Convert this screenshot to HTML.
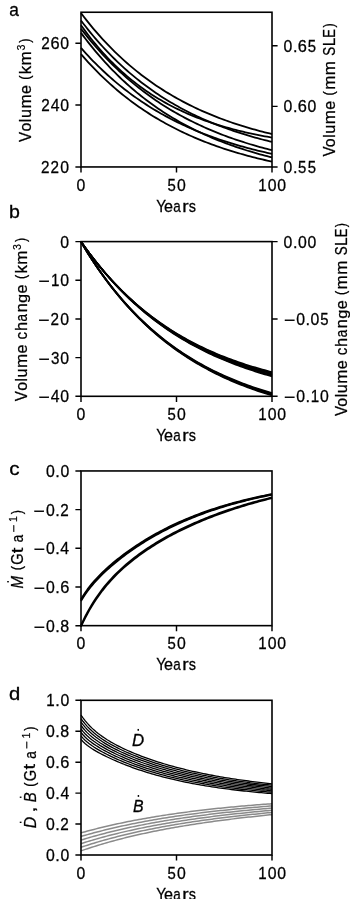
<!DOCTYPE html>
<html><head><meta charset="utf-8"><style>
html,body{margin:0;padding:0;background:#fff;}
svg{display:block;will-change:transform;}
text{font-family:"Liberation Sans",sans-serif;font-size:15px;fill:#000;stroke:#000;stroke-width:0.25px;}
</style></head><body>
<svg width="350" height="899" viewBox="0 0 350 899">
<rect width="350" height="899" fill="#fff"/>
<g stroke-linejoin="round" stroke-linecap="butt">
<polyline points="81,13.11 83.42,16.28 85.84,19.38 88.25,22.42 90.67,25.39 93.09,28.3 95.51,31.14 97.92,33.92 100.34,36.64 102.76,39.31 105.18,41.91 107.59,44.46 110.01,46.96 112.43,49.4 114.85,51.79 117.27,54.13 119.68,56.42 122.1,58.66 124.52,60.85 126.94,62.99 129.35,65.09 131.77,67.14 134.19,69.15 136.61,71.11 139.03,73.04 141.44,74.92 143.86,76.76 146.28,78.56 148.7,80.32 151.11,82.05 153.53,83.73 155.95,85.39 158.37,87 160.78,88.58 163.2,90.13 165.62,91.64 168.04,93.13 170.46,94.57 172.87,95.99 175.29,97.38 177.71,98.74 180.13,100.07 182.54,101.37 184.96,102.64 187.38,103.88 189.8,105.1 192.22,106.29 194.63,107.46 197.05,108.6 199.47,109.72 201.89,110.81 204.3,111.88 206.72,112.93 209.14,113.95 211.56,114.95 213.97,115.93 216.39,116.89 218.81,117.83 221.23,118.75 223.65,119.65 226.06,120.52 228.48,121.39 230.9,122.23 233.32,123.05 235.73,123.86 238.15,124.65 240.57,125.42 242.99,126.17 245.41,126.91 247.82,127.63 250.24,128.34 252.66,129.03 255.08,129.71 257.49,130.37 259.91,131.02 262.33,131.66 264.75,132.28 267.16,132.88 269.58,133.48 272,134.06" fill="none" stroke="#000" stroke-width="1.8"/>
<polyline points="81,20.55 83.42,23.72 85.84,26.82 88.25,29.86 90.67,32.83 93.09,35.73 95.51,38.58 97.92,41.36 100.34,44.08 102.76,46.75 105.18,49.36 107.59,51.91 110.01,54.41 112.43,56.85 114.85,59.25 117.27,61.59 119.68,63.88 122.1,66.12 124.52,68.32 126.94,70.47 129.35,72.57 131.77,74.62 134.19,76.64 136.61,78.61 139.03,80.54 141.44,82.42 143.86,84.27 146.28,86.08 148.7,87.85 151.11,89.58 153.53,91.27 155.95,92.93 158.37,94.55 160.78,96.14 163.2,97.69 165.62,99.21 168.04,100.7 170.46,102.15 172.87,103.58 175.29,104.97 177.71,106.34 180.13,107.68 182.54,108.98 184.96,110.26 187.38,111.51 189.8,112.74 192.22,113.94 194.63,115.11 197.05,116.26 199.47,117.38 201.89,118.48 204.3,119.56 206.72,120.61 209.14,121.64 211.56,122.65 213.97,123.64 216.39,124.6 218.81,125.55 221.23,126.48 223.65,127.38 226.06,128.27 228.48,129.13 230.9,129.98 233.32,130.81 235.73,131.63 238.15,132.42 240.57,133.2 242.99,133.96 245.41,134.71 247.82,135.44 250.24,136.15 252.66,136.85 255.08,137.53 257.49,138.2 259.91,138.86 262.33,139.5 264.75,140.13 267.16,140.74 269.58,141.34 272,141.93" fill="none" stroke="#000" stroke-width="1.8"/>
<polyline points="81,25.23 83.42,28.6 85.84,31.88 88.25,35.07 90.67,38.18 93.09,41.21 95.51,44.16 97.92,47.02 100.34,49.82 102.76,52.54 105.18,55.19 107.59,57.77 110.01,60.28 112.43,62.72 114.85,65.1 117.27,67.42 119.68,69.68 122.1,71.87 124.52,74.01 126.94,76.09 129.35,78.12 131.77,80.1 134.19,82.02 136.61,83.89 139.03,85.71 141.44,87.49 143.86,89.22 146.28,90.9 148.7,92.54 151.11,94.13 153.53,95.68 155.95,97.2 158.37,98.67 160.78,100.1 163.2,101.5 165.62,102.86 168.04,104.18 170.46,105.47 172.87,106.72 175.29,107.94 177.71,109.13 180.13,110.29 182.54,111.42 184.96,112.51 187.38,113.58 189.8,114.62 192.22,115.64 194.63,116.62 197.05,117.58 199.47,118.52 201.89,119.43 204.3,120.32 206.72,121.18 209.14,122.02 211.56,122.84 213.97,123.63 216.39,124.41 218.81,125.16 221.23,125.9 223.65,126.62 226.06,127.31 228.48,127.99 230.9,128.65 233.32,129.3 235.73,129.92 238.15,130.53 240.57,131.13 242.99,131.71 245.41,132.27 247.82,132.82 250.24,133.35 252.66,133.87 255.08,134.38 257.49,134.87 259.91,135.35 262.33,135.82 264.75,136.27 267.16,136.71 269.58,137.14 272,137.56" fill="none" stroke="#000" stroke-width="1.8"/>
<polyline points="81,28.76 83.42,31.87 85.84,34.91 88.25,37.89 90.67,40.81 93.09,43.67 95.51,46.47 97.92,49.21 100.34,51.89 102.76,54.52 105.18,57.1 107.59,59.62 110.01,62.09 112.43,64.51 114.85,66.88 117.27,69.2 119.68,71.47 122.1,73.69 124.52,75.87 126.94,78 129.35,80.09 131.77,82.14 134.19,84.14 136.61,86.1 139.03,88.03 141.44,89.91 143.86,91.75 146.28,93.56 148.7,95.32 151.11,97.06 153.53,98.75 155.95,100.41 158.37,102.04 160.78,103.63 163.2,105.19 165.62,106.72 168.04,108.21 170.46,109.68 172.87,111.11 175.29,112.52 177.71,113.89 180.13,115.24 182.54,116.56 184.96,117.85 187.38,119.12 189.8,120.36 192.22,121.57 194.63,122.76 197.05,123.92 199.47,125.06 201.89,126.18 204.3,127.27 206.72,128.34 209.14,129.39 211.56,130.42 213.97,131.42 216.39,132.41 218.81,133.37 221.23,134.32 223.65,135.24 226.06,136.15 228.48,137.03 230.9,137.9 233.32,138.75 235.73,139.59 238.15,140.4 240.57,141.2 242.99,141.98 245.41,142.75 247.82,143.5 250.24,144.24 252.66,144.96 255.08,145.66 257.49,146.35 259.91,147.03 262.33,147.69 264.75,148.34 267.16,148.97 269.58,149.6 272,150.2" fill="none" stroke="#000" stroke-width="1.8"/>
<polyline points="81,32.88 83.42,36.12 85.84,39.29 88.25,42.4 90.67,45.43 93.09,48.41 95.51,51.32 97.92,54.17 100.34,56.96 102.76,59.69 105.18,62.36 107.59,64.97 110.01,67.53 112.43,70.03 114.85,72.49 117.27,74.89 119.68,77.23 122.1,79.53 124.52,81.78 126.94,83.98 129.35,86.14 131.77,88.25 134.19,90.31 136.61,92.33 139.03,94.31 141.44,96.24 143.86,98.14 146.28,99.99 148.7,101.81 151.11,103.58 153.53,105.32 155.95,107.02 158.37,108.69 160.78,110.32 163.2,111.91 165.62,113.47 168.04,115 170.46,116.5 172.87,117.96 175.29,119.39 177.71,120.8 180.13,122.17 182.54,123.51 184.96,124.83 187.38,126.11 189.8,127.37 192.22,128.61 194.63,129.81 197.05,130.99 199.47,132.15 201.89,133.28 204.3,134.39 206.72,135.47 209.14,136.53 211.56,137.57 213.97,138.59 216.39,139.58 218.81,140.55 221.23,141.51 223.65,142.44 226.06,143.35 228.48,144.24 230.9,145.12 233.32,145.97 235.73,146.81 238.15,147.63 240.57,148.43 242.99,149.22 245.41,149.99 247.82,150.74 250.24,151.47 252.66,152.19 255.08,152.9 257.49,153.59 259.91,154.27 262.33,154.93 264.75,155.57 267.16,156.21 269.58,156.83 272,157.43" fill="none" stroke="#000" stroke-width="1.8"/>
<polyline points="81,47.94 83.42,50.67 85.84,53.34 88.25,55.95 90.67,58.51 93.09,61.01 95.51,63.46 97.92,65.86 100.34,68.21 102.76,70.52 105.18,72.77 107.59,74.98 110.01,77.14 112.43,79.25 114.85,81.33 117.27,83.35 119.68,85.34 122.1,87.28 124.52,89.19 126.94,91.05 129.35,92.88 131.77,94.66 134.19,96.41 136.61,98.13 139.03,99.81 141.44,101.45 143.86,103.06 146.28,104.63 148.7,106.17 151.11,107.68 153.53,109.16 155.95,110.61 158.37,112.03 160.78,113.41 163.2,114.77 165.62,116.1 168.04,117.4 170.46,118.68 172.87,119.93 175.29,121.15 177.71,122.35 180.13,123.52 182.54,124.67 184.96,125.79 187.38,126.89 189.8,127.97 192.22,129.02 194.63,130.06 197.05,131.07 199.47,132.06 201.89,133.03 204.3,133.98 206.72,134.91 209.14,135.82 211.56,136.71 213.97,137.58 216.39,138.43 218.81,139.27 221.23,140.09 223.65,140.89 226.06,141.68 228.48,142.45 230.9,143.2 233.32,143.94 235.73,144.66 238.15,145.36 240.57,146.06 242.99,146.73 245.41,147.4 247.82,148.05 250.24,148.68 252.66,149.3 255.08,149.91 257.49,150.51 259.91,151.09 262.33,151.67 264.75,152.23 267.16,152.78 269.58,153.31 272,153.84" fill="none" stroke="#000" stroke-width="1.8"/>
<polyline points="81,54.18 83.42,56.95 85.84,59.67 88.25,62.33 90.67,64.93 93.09,67.48 95.51,69.97 97.92,72.41 100.34,74.8 102.76,77.14 105.18,79.44 107.59,81.68 110.01,83.88 112.43,86.03 114.85,88.13 117.27,90.19 119.68,92.21 122.1,94.19 124.52,96.12 126.94,98.01 129.35,99.87 131.77,101.68 134.19,103.46 136.61,105.2 139.03,106.9 141.44,108.57 143.86,110.2 146.28,111.8 148.7,113.37 151.11,114.9 153.53,116.4 155.95,117.87 158.37,119.3 160.78,120.71 163.2,122.09 165.62,123.44 168.04,124.76 170.46,126.05 172.87,127.32 175.29,128.56 177.71,129.77 180.13,130.96 182.54,132.12 184.96,133.26 187.38,134.37 189.8,135.46 192.22,136.53 194.63,137.58 197.05,138.6 199.47,139.6 201.89,140.59 204.3,141.55 206.72,142.49 209.14,143.41 211.56,144.31 213.97,145.19 216.39,146.06 218.81,146.9 221.23,147.73 223.65,148.54 226.06,149.34 228.48,150.11 230.9,150.88 233.32,151.62 235.73,152.35 238.15,153.06 240.57,153.76 242.99,154.45 245.41,155.12 247.82,155.77 250.24,156.42 252.66,157.04 255.08,157.66 257.49,158.26 259.91,158.85 262.33,159.43 264.75,160 267.16,160.55 269.58,161.09 272,161.62" fill="none" stroke="#000" stroke-width="1.8"/>
<polyline points="81,241.63 83.42,245.05 85.84,248.4 88.25,251.67 90.67,254.87 93.09,258.01 95.51,261.08 97.92,264.08 100.34,267.02 102.76,269.89 105.18,272.7 107.59,275.46 110.01,278.15 112.43,280.79 114.85,283.37 117.27,285.89 119.68,288.36 122.1,290.78 124.52,293.15 126.94,295.46 129.35,297.73 131.77,299.94 134.19,302.11 136.61,304.23 139.03,306.31 141.44,308.34 143.86,310.33 146.28,312.28 148.7,314.18 151.11,316.04 153.53,317.87 155.95,319.65 158.37,321.39 160.78,323.1 163.2,324.77 165.62,326.41 168.04,328.01 170.46,329.57 172.87,331.1 175.29,332.6 177.71,334.06 180.13,335.5 182.54,336.9 184.96,338.27 187.38,339.62 189.8,340.93 192.22,342.22 194.63,343.47 197.05,344.7 199.47,345.91 201.89,347.08 204.3,348.24 206.72,349.36 209.14,350.46 211.56,351.54 213.97,352.6 216.39,353.63 218.81,354.64 221.23,355.63 223.65,356.59 226.06,357.54 228.48,358.46 230.9,359.37 233.32,360.25 235.73,361.11 238.15,361.96 240.57,362.79 242.99,363.6 245.41,364.39 247.82,365.16 250.24,365.92 252.66,366.66 255.08,367.38 257.49,368.09 259.91,368.78 262.33,369.46 264.75,370.12 267.16,370.77 269.58,371.41 272,372.02" fill="none" stroke="#000" stroke-width="1.6"/>
<polyline points="81,241.63 83.42,245.06 85.84,248.42 88.25,251.7 90.67,254.92 93.09,258.06 95.51,261.14 97.92,264.16 100.34,267.11 102.76,269.99 105.18,272.82 107.59,275.58 110.01,278.29 112.43,280.93 114.85,283.52 117.27,286.06 119.68,288.54 122.1,290.97 124.52,293.35 126.94,295.67 129.35,297.95 131.77,300.18 134.19,302.36 136.61,304.49 139.03,306.58 141.44,308.62 143.86,310.62 146.28,312.58 148.7,314.49 151.11,316.37 153.53,318.2 155.95,319.99 158.37,321.75 160.78,323.47 163.2,325.15 165.62,326.8 168.04,328.41 170.46,329.98 172.87,331.52 175.29,333.03 177.71,334.51 180.13,335.95 182.54,337.37 184.96,338.75 187.38,340.11 189.8,341.43 192.22,342.73 194.63,344 197.05,345.24 199.47,346.45 201.89,347.64 204.3,348.8 206.72,349.94 209.14,351.05 211.56,352.14 213.97,353.21 216.39,354.25 218.81,355.27 221.23,356.27 223.65,357.25 226.06,358.21 228.48,359.14 230.9,360.06 233.32,360.95 235.73,361.83 238.15,362.68 240.57,363.52 242.99,364.34 245.41,365.15 247.82,365.93 250.24,366.7 252.66,367.45 255.08,368.19 257.49,368.91 259.91,369.61 262.33,370.3 264.75,370.97 267.16,371.63 269.58,372.27 272,372.9" fill="none" stroke="#000" stroke-width="1.6"/>
<polyline points="81,241.63 83.42,245.07 85.84,248.44 88.25,251.74 90.67,254.96 93.09,258.12 95.51,261.21 97.92,264.23 100.34,267.19 102.76,270.09 105.18,272.93 107.59,275.7 110.01,278.42 112.43,281.08 114.85,283.68 117.27,286.23 119.68,288.72 122.1,291.16 124.52,293.55 126.94,295.88 129.35,298.17 131.77,300.41 134.19,302.6 136.61,304.75 139.03,306.85 141.44,308.9 143.86,310.91 146.28,312.88 148.7,314.8 151.11,316.69 153.53,318.53 155.95,320.34 158.37,322.11 160.78,323.84 163.2,325.53 165.62,327.19 168.04,328.81 170.46,330.39 172.87,331.95 175.29,333.47 177.71,334.96 180.13,336.41 182.54,337.84 184.96,339.23 187.38,340.6 189.8,341.93 192.22,343.24 194.63,344.52 197.05,345.77 199.47,347 201.89,348.2 204.3,349.37 206.72,350.52 209.14,351.65 211.56,352.75 213.97,353.82 216.39,354.88 218.81,355.91 221.23,356.92 223.65,357.91 226.06,358.87 228.48,359.82 230.9,360.75 233.32,361.65 235.73,362.54 238.15,363.41 240.57,364.26 242.99,365.09 245.41,365.9 247.82,366.7 250.24,367.48 252.66,368.24 255.08,368.99 257.49,369.72 259.91,370.43 262.33,371.13 264.75,371.82 267.16,372.49 269.58,373.14 272,373.78" fill="none" stroke="#000" stroke-width="1.6"/>
<polyline points="81,241.63 83.42,245.09 85.84,248.46 88.25,251.77 90.67,255.01 93.09,258.18 95.51,261.28 97.92,264.31 100.34,267.28 102.76,270.19 105.18,273.04 107.59,275.83 110.01,278.55 112.43,281.22 114.85,283.84 117.27,286.39 119.68,288.9 122.1,291.35 124.52,293.75 126.94,296.1 129.35,298.39 131.77,300.64 134.19,302.85 136.61,305 139.03,307.11 141.44,309.18 143.86,311.2 146.28,313.18 148.7,315.12 151.11,317.01 153.53,318.87 155.95,320.68 158.37,322.46 160.78,324.2 163.2,325.91 165.62,327.58 168.04,329.21 170.46,330.81 172.87,332.37 175.29,333.9 177.71,335.4 180.13,336.87 182.54,338.3 184.96,339.71 187.38,341.09 189.8,342.43 192.22,343.75 194.63,345.04 197.05,346.31 199.47,347.54 201.89,348.75 204.3,349.94 206.72,351.1 209.14,352.24 211.56,353.35 213.97,354.44 216.39,355.5 218.81,356.54 221.23,357.56 223.65,358.56 226.06,359.54 228.48,360.5 230.9,361.44 233.32,362.35 235.73,363.25 238.15,364.13 240.57,364.99 242.99,365.84 245.41,366.66 247.82,367.47 250.24,368.26 252.66,369.03 255.08,369.79 257.49,370.53 259.91,371.26 262.33,371.97 264.75,372.66 267.16,373.35 269.58,374.01 272,374.66" fill="none" stroke="#000" stroke-width="1.6"/>
<polyline points="81,241.63 83.42,245.1 85.84,248.49 88.25,251.8 90.67,255.05 93.09,258.23 95.51,261.34 97.92,264.39 100.34,267.37 102.76,270.29 105.18,273.15 107.59,275.95 110.01,278.69 112.43,281.37 114.85,283.99 117.27,286.56 119.68,289.08 122.1,291.54 124.52,293.95 126.94,296.31 129.35,298.62 131.77,300.88 134.19,303.09 136.61,305.26 139.03,307.38 141.44,309.46 143.86,311.49 146.28,313.48 148.7,315.43 151.11,317.33 153.53,319.2 155.95,321.03 158.37,322.82 160.78,324.57 163.2,326.29 165.62,327.97 168.04,329.61 170.46,331.22 172.87,332.79 175.29,334.34 177.71,335.85 180.13,337.33 182.54,338.77 184.96,340.19 187.38,341.58 189.8,342.94 192.22,344.26 194.63,345.57 197.05,346.84 199.47,348.09 201.89,349.31 204.3,350.51 206.72,351.68 209.14,352.83 211.56,353.95 213.97,355.05 216.39,356.12 218.81,357.18 221.23,358.21 223.65,359.22 226.06,360.21 228.48,361.18 230.9,362.13 233.32,363.06 235.73,363.97 238.15,364.86 240.57,365.73 242.99,366.58 245.41,367.42 247.82,368.24 250.24,369.04 252.66,369.82 255.08,370.59 257.49,371.34 259.91,372.08 262.33,372.8 264.75,373.51 267.16,374.2 269.58,374.88 272,375.54" fill="none" stroke="#000" stroke-width="1.6"/>
<polyline points="81,241.63 83.42,245.11 85.84,248.51 88.25,251.84 90.67,255.1 93.09,258.29 95.51,261.41 97.92,264.47 100.34,267.46 102.76,270.39 105.18,273.26 107.59,276.07 110.01,278.82 112.43,281.51 114.85,284.15 117.27,286.73 119.68,289.25 122.1,291.73 124.52,294.15 126.94,296.52 129.35,298.84 131.77,301.11 134.19,303.34 136.61,305.51 139.03,307.65 141.44,309.73 143.86,311.78 146.28,313.78 148.7,315.74 151.11,317.66 153.53,319.54 155.95,321.38 158.37,323.18 160.78,324.94 163.2,326.67 165.62,328.36 168.04,330.01 170.46,331.63 172.87,333.22 175.29,334.77 177.71,336.29 180.13,337.78 182.54,339.24 184.96,340.67 187.38,342.07 189.8,343.44 192.22,344.78 194.63,346.09 197.05,347.38 199.47,348.64 201.89,349.87 204.3,351.08 206.72,352.26 209.14,353.42 211.56,354.55 213.97,355.66 216.39,356.75 218.81,357.81 221.23,358.86 223.65,359.88 226.06,360.88 228.48,361.86 230.9,362.82 233.32,363.76 235.73,364.68 238.15,365.58 240.57,366.46 242.99,367.33 245.41,368.18 247.82,369.01 250.24,369.82 252.66,370.61 255.08,371.39 257.49,372.16 259.91,372.91 262.33,373.64 264.75,374.36 267.16,375.06 269.58,375.75 272,376.42" fill="none" stroke="#000" stroke-width="1.6"/>
<polyline points="81,241.83 83.42,245.86 85.84,249.8 88.25,253.66 90.67,257.43 93.09,261.11 95.51,264.72 97.92,268.24 100.34,271.69 102.76,275.06 105.18,278.36 107.59,281.58 110.01,284.74 112.43,287.82 114.85,290.84 117.27,293.79 119.68,296.67 122.1,299.5 124.52,302.26 126.94,304.95 129.35,307.59 131.77,310.17 134.19,312.7 136.61,315.16 139.03,317.58 141.44,319.94 143.86,322.25 146.28,324.5 148.7,326.71 151.11,328.87 153.53,330.98 155.95,333.05 158.37,335.06 160.78,337.04 163.2,338.97 165.62,340.86 168.04,342.7 170.46,344.51 172.87,346.27 175.29,348 177.71,349.69 180.13,351.34 182.54,352.95 184.96,354.53 187.38,356.07 189.8,357.58 192.22,359.06 194.63,360.5 197.05,361.91 199.47,363.29 201.89,364.64 204.3,365.96 206.72,367.25 209.14,368.51 211.56,369.75 213.97,370.95 216.39,372.13 218.81,373.29 221.23,374.41 223.65,375.52 226.06,376.6 228.48,377.65 230.9,378.68 233.32,379.69 235.73,380.67 238.15,381.64 240.57,382.58 242.99,383.5 245.41,384.4 247.82,385.28 250.24,386.14 252.66,386.98 255.08,387.8 257.49,388.61 259.91,389.39 262.33,390.16 264.75,390.91 267.16,391.65 269.58,392.37 272,393.07" fill="none" stroke="#000" stroke-width="1.8"/>
<polyline points="81,241.83 83.42,245.87 85.84,249.82 88.25,253.69 90.67,257.47 93.09,261.16 95.51,264.78 97.92,268.31 100.34,271.77 102.76,275.15 105.18,278.46 107.59,281.7 110.01,284.86 112.43,287.95 114.85,290.98 117.27,293.94 119.68,296.84 122.1,299.67 124.52,302.44 126.94,305.15 129.35,307.79 131.77,310.39 134.19,312.92 136.61,315.4 139.03,317.82 141.44,320.19 143.86,322.51 146.28,324.78 148.7,326.99 151.11,329.16 153.53,331.28 155.95,333.36 158.37,335.39 160.78,337.37 163.2,339.31 165.62,341.21 168.04,343.07 170.46,344.88 172.87,346.66 175.29,348.39 177.71,350.09 180.13,351.75 182.54,353.38 184.96,354.97 187.38,356.52 189.8,358.04 192.22,359.53 194.63,360.98 197.05,362.4 199.47,363.79 201.89,365.15 204.3,366.48 206.72,367.78 209.14,369.05 211.56,370.3 213.97,371.51 216.39,372.7 218.81,373.86 221.23,375 223.65,376.11 226.06,377.2 228.48,378.27 230.9,379.31 233.32,380.33 235.73,381.32 238.15,382.29 240.57,383.25 242.99,384.18 245.41,385.09 247.82,385.98 250.24,386.85 252.66,387.7 255.08,388.53 257.49,389.35 259.91,390.14 262.33,390.92 264.75,391.68 267.16,392.43 269.58,393.16 272,393.87" fill="none" stroke="#000" stroke-width="1.8"/>
<polyline points="81,241.83 83.42,245.88 85.84,249.84 88.25,253.72 90.67,257.51 93.09,261.21 95.51,264.84 97.92,268.38 100.34,271.85 102.76,275.24 105.18,278.56 107.59,281.81 110.01,284.98 112.43,288.09 114.85,291.12 117.27,294.09 119.68,297 122.1,299.84 124.52,302.62 126.94,305.34 129.35,308 131.77,310.6 134.19,313.14 136.61,315.63 139.03,318.06 141.44,320.44 143.86,322.77 146.28,325.05 148.7,327.28 151.11,329.46 153.53,331.59 155.95,333.67 158.37,335.71 160.78,337.71 163.2,339.66 165.62,341.57 168.04,343.43 170.46,345.26 172.87,347.04 175.29,348.79 177.71,350.5 180.13,352.17 182.54,353.8 184.96,355.4 187.38,356.97 189.8,358.5 192.22,359.99 194.63,361.45 197.05,362.89 199.47,364.29 201.89,365.66 204.3,367 206.72,368.31 209.14,369.59 211.56,370.84 213.97,372.07 216.39,373.27 218.81,374.44 221.23,375.59 223.65,376.71 226.06,377.81 228.48,378.88 230.9,379.94 233.32,380.96 235.73,381.97 238.15,382.95 240.57,383.91 242.99,384.86 245.41,385.78 247.82,386.68 250.24,387.56 252.66,388.42 255.08,389.26 257.49,390.09 259.91,390.89 262.33,391.68 264.75,392.45 267.16,393.21 269.58,393.95 272,394.67" fill="none" stroke="#000" stroke-width="1.8"/>
<polyline points="81,241.83 83.42,245.89 85.84,249.86 88.25,253.75 90.67,257.55 93.09,261.26 95.51,264.9 97.92,268.46 100.34,271.93 102.76,275.34 105.18,278.66 107.59,281.92 110.01,285.1 112.43,288.22 114.85,291.27 117.27,294.25 119.68,297.16 122.1,300.01 124.52,302.8 126.94,305.53 129.35,308.2 131.77,310.81 134.19,313.36 136.61,315.86 139.03,318.31 141.44,320.7 143.86,323.04 146.28,325.32 148.7,327.56 151.11,329.75 153.53,331.89 155.95,333.99 158.37,336.04 160.78,338.04 163.2,340 165.62,341.92 168.04,343.8 170.46,345.63 172.87,347.43 175.29,349.18 177.71,350.9 180.13,352.58 182.54,354.23 184.96,355.84 187.38,357.41 189.8,358.95 192.22,360.46 194.63,361.93 197.05,363.37 199.47,364.78 201.89,366.16 204.3,367.51 206.72,368.83 209.14,370.12 211.56,371.39 213.97,372.63 216.39,373.84 218.81,375.02 221.23,376.18 223.65,377.31 226.06,378.42 228.48,379.5 230.9,380.56 233.32,381.6 235.73,382.62 238.15,383.61 240.57,384.58 242.99,385.53 245.41,386.46 247.82,387.38 250.24,388.27 252.66,389.14 255.08,389.99 257.49,390.83 259.91,391.64 262.33,392.44 264.75,393.22 267.16,393.99 269.58,394.74 272,395.47" fill="none" stroke="#000" stroke-width="1.8"/>
<polyline points="81,599.18 83.15,595.65 85.29,592.39 87.44,589.38 89.58,586.55 91.73,583.9 93.88,581.39 96.02,578.99 98.17,576.71 100.31,574.51 102.46,572.39 104.61,570.35 106.75,568.37 108.9,566.44 111.04,564.57 113.19,562.75 115.34,560.98 117.48,559.24 119.63,557.55 121.78,555.89 123.92,554.28 126.07,552.69 128.21,551.14 130.36,549.62 132.51,548.13 134.65,546.67 136.8,545.25 138.94,543.84 141.09,542.47 143.24,541.13 145.38,539.81 147.53,538.51 149.67,537.24 151.82,536 153.97,534.78 156.11,533.58 158.26,532.41 160.4,531.26 162.55,530.13 164.7,529.03 166.84,527.94 168.99,526.88 171.13,525.83 173.28,524.81 175.43,523.81 177.57,522.82 179.72,521.86 181.87,520.91 184.01,519.98 186.16,519.07 188.3,518.18 190.45,517.3 192.6,516.44 194.74,515.6 196.89,514.78 199.03,513.97 201.18,513.17 203.33,512.39 205.47,511.63 207.62,510.88 209.76,510.14 211.91,509.42 214.06,508.72 216.2,508.02 218.35,507.34 220.49,506.68 222.64,506.02 224.79,505.38 226.93,504.75 229.08,504.13 231.22,503.53 233.37,502.94 235.52,502.35 237.66,501.78 239.81,501.23 241.96,500.68 244.1,500.14 246.25,499.61 248.39,499.09 250.54,498.59 252.69,498.09 254.83,497.6 256.98,497.12 259.12,496.65 261.27,496.19 263.42,495.74 265.56,495.3 267.71,494.87 269.85,494.44 272,494.03" fill="none" stroke="#000" stroke-width="1.7"/>
<polyline points="81,600.18 83.15,596.64 85.29,593.38 87.44,590.35 89.58,587.53 91.73,584.86 93.88,582.34 96.02,579.95 98.17,577.65 100.31,575.45 102.46,573.32 104.61,571.27 106.75,569.28 108.9,567.35 111.04,565.48 113.19,563.65 115.34,561.86 117.48,560.12 119.63,558.42 121.78,556.76 123.92,555.14 126.07,553.54 128.21,551.99 130.36,550.46 132.51,548.96 134.65,547.5 136.8,546.06 138.94,544.65 141.09,543.28 143.24,541.92 145.38,540.6 147.53,539.3 149.67,538.02 151.82,536.77 153.97,535.54 156.11,534.34 158.26,533.16 160.4,532 162.55,530.87 164.7,529.75 166.84,528.66 168.99,527.59 171.13,526.54 173.28,525.51 175.43,524.5 177.57,523.51 179.72,522.54 181.87,521.58 184.01,520.65 186.16,519.73 188.3,518.83 190.45,517.95 192.6,517.08 194.74,516.23 196.89,515.4 199.03,514.58 201.18,513.78 203.33,512.99 205.47,512.22 207.62,511.46 209.76,510.72 211.91,509.99 214.06,509.28 216.2,508.58 218.35,507.89 220.49,507.22 222.64,506.56 224.79,505.91 226.93,505.27 229.08,504.65 231.22,504.04 233.37,503.44 235.52,502.85 237.66,502.27 239.81,501.71 241.96,501.15 244.1,500.61 246.25,500.07 248.39,499.55 250.54,499.03 252.69,498.53 254.83,498.03 256.98,497.55 259.12,497.07 261.27,496.6 263.42,496.15 265.56,495.7 267.71,495.26 269.85,494.82 272,494.4" fill="none" stroke="#000" stroke-width="1.7"/>
<polyline points="81,601.18 83.15,597.63 85.29,594.36 87.44,591.33 89.58,588.5 91.73,585.83 93.88,583.3 96.02,580.9 98.17,578.59 100.31,576.38 102.46,574.25 104.61,572.19 106.75,570.2 108.9,568.26 111.04,566.38 113.19,564.54 115.34,562.75 117.48,561 119.63,559.3 121.78,557.63 123.92,555.99 126.07,554.4 128.21,552.83 130.36,551.3 132.51,549.8 134.65,548.32 136.8,546.88 138.94,545.47 141.09,544.08 143.24,542.72 145.38,541.39 147.53,540.08 149.67,538.8 151.82,537.54 153.97,536.3 156.11,535.09 158.26,533.91 160.4,532.74 162.55,531.6 164.7,530.48 166.84,529.38 168.99,528.3 171.13,527.25 173.28,526.21 175.43,525.19 177.57,524.19 179.72,523.21 181.87,522.25 184.01,521.31 186.16,520.38 188.3,519.48 190.45,518.59 192.6,517.71 194.74,516.86 196.89,516.02 199.03,515.19 201.18,514.38 203.33,513.59 205.47,512.81 207.62,512.05 209.76,511.3 211.91,510.57 214.06,509.84 216.2,509.14 218.35,508.44 220.49,507.76 222.64,507.09 224.79,506.44 226.93,505.8 229.08,505.17 231.22,504.55 233.37,503.94 235.52,503.34 237.66,502.76 239.81,502.19 241.96,501.62 244.1,501.07 246.25,500.53 248.39,500 250.54,499.48 252.69,498.97 254.83,498.46 256.98,497.97 259.12,497.49 261.27,497.01 263.42,496.55 265.56,496.09 267.71,495.65 269.85,495.21 272,494.78" fill="none" stroke="#000" stroke-width="1.7"/>
<polyline points="81,625.16 83.15,620.56 85.29,616.24 87.44,612.17 89.58,608.33 91.73,604.7 93.88,601.26 96.02,597.99 98.17,594.89 100.31,591.93 102.46,589.1 104.61,586.4 106.75,583.81 108.9,581.33 111.04,578.95 113.19,576.65 115.34,574.44 117.48,572.31 119.63,570.25 121.78,568.26 123.92,566.32 126.07,564.45 128.21,562.63 130.36,560.87 132.51,559.15 134.65,557.48 136.8,555.85 138.94,554.26 141.09,552.71 143.24,551.2 145.38,549.72 147.53,548.28 149.67,546.87 151.82,545.49 153.97,544.13 156.11,542.81 158.26,541.51 160.4,540.24 162.55,539 164.7,537.78 166.84,536.58 168.99,535.4 171.13,534.25 173.28,533.12 175.43,532 177.57,530.91 179.72,529.84 181.87,528.79 184.01,527.75 186.16,526.74 188.3,525.74 190.45,524.76 192.6,523.8 194.74,522.85 196.89,521.92 199.03,521 201.18,520.1 203.33,519.21 205.47,518.34 207.62,517.49 209.76,516.65 211.91,515.82 214.06,515 216.2,514.2 218.35,513.42 220.49,512.64 222.64,511.88 224.79,511.13 226.93,510.39 229.08,509.67 231.22,508.96 233.37,508.25 235.52,507.57 237.66,506.89 239.81,506.22 241.96,505.56 244.1,504.92 246.25,504.28 248.39,503.65 250.54,503.04 252.69,502.43 254.83,501.84 256.98,501.25 259.12,500.68 261.27,500.11 263.42,499.55 265.56,499 267.71,498.46 269.85,497.93 272,497.41" fill="none" stroke="#000" stroke-width="1.7"/>
<polyline points="81,626.76 83.15,622.15 85.29,617.82 87.44,613.75 89.58,609.9 91.73,606.25 93.88,602.8 96.02,599.53 98.17,596.41 100.31,593.45 102.46,590.61 104.61,587.9 106.75,585.31 108.9,582.82 111.04,580.42 113.19,578.12 115.34,575.9 117.48,573.76 119.63,571.69 121.78,569.68 123.92,567.74 126.07,565.86 128.21,564.04 130.36,562.26 132.51,560.53 134.65,558.85 136.8,557.22 138.94,555.62 141.09,554.06 143.24,552.54 145.38,551.05 147.53,549.6 149.67,548.18 151.82,546.79 153.97,545.43 156.11,544.1 158.26,542.79 160.4,541.51 162.55,540.26 164.7,539.02 166.84,537.82 168.99,536.63 171.13,535.47 173.28,534.33 175.43,533.21 177.57,532.11 179.72,531.03 181.87,529.97 184.01,528.92 186.16,527.9 188.3,526.89 190.45,525.9 192.6,524.93 194.74,523.97 196.89,523.03 199.03,522.11 201.18,521.2 203.33,520.3 205.47,519.42 207.62,518.56 209.76,517.71 211.91,516.87 214.06,516.05 216.2,515.24 218.35,514.44 220.49,513.66 222.64,512.89 224.79,512.13 226.93,511.38 229.08,510.65 231.22,509.93 233.37,509.22 235.52,508.52 237.66,507.83 239.81,507.15 241.96,506.49 244.1,505.83 246.25,505.19 248.39,504.55 250.54,503.93 252.69,503.32 254.83,502.71 256.98,502.12 259.12,501.53 261.27,500.96 263.42,500.39 265.56,499.83 267.71,499.28 269.85,498.74 272,498.21" fill="none" stroke="#000" stroke-width="1.7"/>
<polyline points="81,715.15 83.15,718.17 85.29,720.91 87.44,723.43 89.58,725.74 91.73,727.88 93.88,729.86 96.02,731.71 98.17,733.45 100.31,735.08 102.46,736.62 104.61,738.08 106.75,739.48 108.9,740.8 111.04,742.08 113.19,743.3 115.34,744.47 117.48,745.61 119.63,746.7 121.78,747.76 123.92,748.79 126.07,749.78 128.21,750.75 130.36,751.69 132.51,752.61 134.65,753.5 136.8,754.37 138.94,755.22 141.09,756.05 143.24,756.85 145.38,757.64 147.53,758.42 149.67,759.17 151.82,759.91 153.97,760.63 156.11,761.33 158.26,762.02 160.4,762.7 162.55,763.36 164.7,764 166.84,764.64 168.99,765.26 171.13,765.86 173.28,766.45 175.43,767.04 177.57,767.6 179.72,768.16 181.87,768.71 184.01,769.24 186.16,769.76 188.3,770.27 190.45,770.78 192.6,771.27 194.74,771.75 196.89,772.22 199.03,772.68 201.18,773.13 203.33,773.57 205.47,774 207.62,774.43 209.76,774.84 211.91,775.25 214.06,775.65 216.2,776.04 218.35,776.42 220.49,776.79 222.64,777.16 224.79,777.52 226.93,777.87 229.08,778.21 231.22,778.55 233.37,778.88 235.52,779.21 237.66,779.52 239.81,779.83 241.96,780.14 244.1,780.43 246.25,780.72 248.39,781.01 250.54,781.29 252.69,781.56 254.83,781.83 256.98,782.09 259.12,782.35 261.27,782.6 263.42,782.85 265.56,783.09 267.71,783.33 269.85,783.56 272,783.78" fill="none" stroke="#000" stroke-width="1.3"/>
<polyline points="81,718.6 83.15,721.53 85.29,724.17 87.44,726.58 89.58,728.78 91.73,730.82 93.88,732.71 96.02,734.48 98.17,736.14 100.31,737.71 102.46,739.19 104.61,740.6 106.75,741.94 108.9,743.23 111.04,744.46 113.19,745.65 115.34,746.79 117.48,747.89 119.63,748.96 121.78,749.99 123.92,751 126.07,751.97 128.21,752.92 130.36,753.84 132.51,754.74 134.65,755.61 136.8,756.47 138.94,757.3 141.09,758.11 143.24,758.9 145.38,759.68 147.53,760.43 149.67,761.17 151.82,761.9 153.97,762.6 156.11,763.29 158.26,763.97 160.4,764.63 162.55,765.28 164.7,765.91 166.84,766.53 168.99,767.14 171.13,767.73 173.28,768.31 175.43,768.88 177.57,769.44 179.72,769.98 181.87,770.52 184.01,771.04 186.16,771.55 188.3,772.05 190.45,772.54 192.6,773.02 194.74,773.49 196.89,773.95 199.03,774.4 201.18,774.84 203.33,775.27 205.47,775.69 207.62,776.1 209.76,776.51 211.91,776.9 214.06,777.29 216.2,777.67 218.35,778.04 220.49,778.41 222.64,778.76 224.79,779.11 226.93,779.45 229.08,779.79 231.22,780.11 233.37,780.43 235.52,780.75 237.66,781.06 239.81,781.36 241.96,781.65 244.1,781.94 246.25,782.22 248.39,782.5 250.54,782.77 252.69,783.03 254.83,783.29 256.98,783.55 259.12,783.8 261.27,784.04 263.42,784.28 265.56,784.51 267.71,784.74 269.85,784.96 272,785.18" fill="none" stroke="#000" stroke-width="1.3"/>
<polyline points="81,722.06 83.15,724.89 85.29,727.43 87.44,729.73 89.58,731.83 91.73,733.76 93.88,735.57 96.02,737.25 98.17,738.83 100.31,740.33 102.46,741.75 104.61,743.11 106.75,744.41 108.9,745.65 111.04,746.84 113.19,747.99 115.34,749.1 117.48,750.18 119.63,751.22 121.78,752.23 123.92,753.21 126.07,754.16 128.21,755.09 130.36,755.99 132.51,756.87 134.65,757.73 136.8,758.56 138.94,759.38 141.09,760.17 143.24,760.95 145.38,761.71 147.53,762.45 149.67,763.18 151.82,763.89 153.97,764.58 156.11,765.26 158.26,765.92 160.4,766.57 162.55,767.2 164.7,767.82 166.84,768.43 168.99,769.02 171.13,769.6 173.28,770.17 175.43,770.73 177.57,771.27 179.72,771.8 181.87,772.33 184.01,772.83 186.16,773.33 188.3,773.82 190.45,774.3 192.6,774.77 194.74,775.23 196.89,775.67 199.03,776.11 201.18,776.54 203.33,776.96 205.47,777.37 207.62,777.78 209.76,778.17 211.91,778.55 214.06,778.93 216.2,779.3 218.35,779.66 220.49,780.02 222.64,780.36 224.79,780.7 226.93,781.03 229.08,781.36 231.22,781.68 233.37,781.99 235.52,782.29 237.66,782.59 239.81,782.88 241.96,783.17 244.1,783.45 246.25,783.72 248.39,783.99 250.54,784.25 252.69,784.51 254.83,784.76 256.98,785 259.12,785.24 261.27,785.48 263.42,785.71 265.56,785.94 267.71,786.16 269.85,786.37 272,786.58" fill="none" stroke="#000" stroke-width="1.3"/>
<polyline points="81,725.51 83.15,728.25 85.29,730.69 87.44,732.87 89.58,734.87 91.73,736.71 93.88,738.42 96.02,740.02 98.17,741.53 100.31,742.96 102.46,744.32 104.61,745.62 106.75,746.87 108.9,748.07 111.04,749.22 113.19,750.34 115.34,751.42 117.48,752.46 119.63,753.48 121.78,754.46 123.92,755.42 126.07,756.35 128.21,757.26 130.36,758.14 132.51,759 134.65,759.84 136.8,760.66 138.94,761.46 141.09,762.24 143.24,763 145.38,763.74 147.53,764.47 149.67,765.18 151.82,765.88 153.97,766.56 156.11,767.22 158.26,767.87 160.4,768.5 162.55,769.12 164.7,769.73 166.84,770.32 168.99,770.91 171.13,771.47 173.28,772.03 175.43,772.57 177.57,773.11 179.72,773.63 181.87,774.13 184.01,774.63 186.16,775.12 188.3,775.6 190.45,776.06 192.6,776.52 194.74,776.97 196.89,777.4 199.03,777.83 201.18,778.25 203.33,778.66 205.47,779.06 207.62,779.45 209.76,779.83 211.91,780.21 214.06,780.57 216.2,780.93 218.35,781.28 220.49,781.63 222.64,781.96 224.79,782.29 226.93,782.62 229.08,782.93 231.22,783.24 233.37,783.54 235.52,783.84 237.66,784.12 239.81,784.41 241.96,784.68 244.1,784.95 246.25,785.22 248.39,785.48 250.54,785.73 252.69,785.98 254.83,786.22 256.98,786.46 259.12,786.69 261.27,786.92 263.42,787.14 265.56,787.36 267.71,787.57 269.85,787.78 272,787.98" fill="none" stroke="#000" stroke-width="1.3"/>
<polyline points="81,728.97 83.15,731.62 85.29,733.94 87.44,736.02 89.58,737.91 91.73,739.65 93.88,741.27 96.02,742.79 98.17,744.22 100.31,745.59 102.46,746.89 104.61,748.14 106.75,749.33 108.9,750.49 111.04,751.61 113.19,752.69 115.34,753.73 117.48,754.75 119.63,755.74 121.78,756.7 123.92,757.63 126.07,758.54 128.21,759.42 130.36,760.29 132.51,761.13 134.65,761.95 136.8,762.75 138.94,763.54 141.09,764.3 143.24,765.05 145.38,765.78 147.53,766.49 149.67,767.19 151.82,767.87 153.97,768.53 156.11,769.18 158.26,769.82 160.4,770.44 162.55,771.05 164.7,771.64 166.84,772.22 168.99,772.79 171.13,773.34 173.28,773.89 175.43,774.42 177.57,774.94 179.72,775.45 181.87,775.94 184.01,776.43 186.16,776.91 188.3,777.37 190.45,777.83 192.6,778.27 194.74,778.7 196.89,779.13 199.03,779.55 201.18,779.95 203.33,780.35 205.47,780.74 207.62,781.12 209.76,781.49 211.91,781.86 214.06,782.22 216.2,782.56 218.35,782.91 220.49,783.24 222.64,783.57 224.79,783.88 226.93,784.2 229.08,784.5 231.22,784.8 233.37,785.09 235.52,785.38 237.66,785.66 239.81,785.93 241.96,786.2 244.1,786.46 246.25,786.72 248.39,786.97 250.54,787.21 252.69,787.45 254.83,787.69 256.98,787.92 259.12,788.14 261.27,788.36 263.42,788.57 265.56,788.78 267.71,788.99 269.85,789.19 272,789.39" fill="none" stroke="#000" stroke-width="1.3"/>
<polyline points="81,732.42 83.15,734.98 85.29,737.2 87.44,739.17 89.58,740.96 91.73,742.6 93.88,744.12 96.02,745.56 98.17,746.92 100.31,748.21 102.46,749.45 104.61,750.65 106.75,751.8 108.9,752.91 111.04,753.99 113.19,755.03 115.34,756.05 117.48,757.03 119.63,757.99 121.78,758.93 123.92,759.84 126.07,760.73 128.21,761.59 130.36,762.44 132.51,763.26 134.65,764.06 136.8,764.85 138.94,765.62 141.09,766.36 143.24,767.09 145.38,767.81 147.53,768.51 149.67,769.19 151.82,769.86 153.97,770.51 156.11,771.14 158.26,771.77 160.4,772.37 162.55,772.97 164.7,773.55 166.84,774.12 168.99,774.67 171.13,775.22 173.28,775.75 175.43,776.27 177.57,776.77 179.72,777.27 181.87,777.75 184.01,778.23 186.16,778.69 188.3,779.14 190.45,779.59 192.6,780.02 194.74,780.44 196.89,780.86 199.03,781.26 201.18,781.66 203.33,782.05 205.47,782.43 207.62,782.8 209.76,783.16 211.91,783.51 214.06,783.86 216.2,784.2 218.35,784.53 220.49,784.85 222.64,785.17 224.79,785.48 226.93,785.78 229.08,786.07 231.22,786.36 233.37,786.65 235.52,786.92 237.66,787.19 239.81,787.46 241.96,787.72 244.1,787.97 246.25,788.22 248.39,788.46 250.54,788.69 252.69,788.92 254.83,789.15 256.98,789.37 259.12,789.59 261.27,789.8 263.42,790 265.56,790.21 267.71,790.4 269.85,790.6 272,790.79" fill="none" stroke="#000" stroke-width="1.3"/>
<polyline points="81,735.88 83.15,738.34 85.29,740.46 87.44,742.32 89.58,744 91.73,745.54 93.88,746.98 96.02,748.33 98.17,749.61 100.31,750.84 102.46,752.02 104.61,753.16 106.75,754.26 108.9,755.33 111.04,756.37 113.19,757.38 115.34,758.36 117.48,759.32 119.63,760.25 121.78,761.16 123.92,762.05 126.07,762.92 128.21,763.76 130.36,764.58 132.51,765.39 134.65,766.18 136.8,766.94 138.94,767.69 141.09,768.43 143.24,769.14 145.38,769.84 147.53,770.53 149.67,771.19 151.82,771.85 153.97,772.48 156.11,773.11 158.26,773.71 160.4,774.31 162.55,774.89 164.7,775.46 166.84,776.01 168.99,776.56 171.13,777.09 173.28,777.6 175.43,778.11 177.57,778.61 179.72,779.09 181.87,779.56 184.01,780.03 186.16,780.48 188.3,780.92 190.45,781.35 192.6,781.77 194.74,782.18 196.89,782.59 199.03,782.98 201.18,783.37 203.33,783.74 205.47,784.11 207.62,784.47 209.76,784.82 211.91,785.16 214.06,785.5 216.2,785.83 218.35,786.15 220.49,786.46 222.64,786.77 224.79,787.07 226.93,787.36 229.08,787.65 231.22,787.93 233.37,788.2 235.52,788.47 237.66,788.73 239.81,788.98 241.96,789.23 244.1,789.48 246.25,789.71 248.39,789.95 250.54,790.17 252.69,790.4 254.83,790.61 256.98,790.83 259.12,791.03 261.27,791.24 263.42,791.44 265.56,791.63 267.71,791.82 269.85,792 272,792.19" fill="none" stroke="#000" stroke-width="1.3"/>
<polyline points="81,739.33 83.15,741.7 85.29,743.71 87.44,745.47 89.58,747.04 91.73,748.49 93.88,749.83 96.02,751.1 98.17,752.31 100.31,753.47 102.46,754.59 104.61,755.67 106.75,756.73 108.9,757.75 111.04,758.75 113.19,759.73 115.34,760.68 117.48,761.61 119.63,762.51 121.78,763.4 123.92,764.26 126.07,765.1 128.21,765.93 130.36,766.73 132.51,767.52 134.65,768.29 136.8,769.04 138.94,769.77 141.09,770.49 143.24,771.19 145.38,771.88 147.53,772.54 149.67,773.2 151.82,773.83 153.97,774.46 156.11,775.07 158.26,775.66 160.4,776.24 162.55,776.81 164.7,777.37 166.84,777.91 168.99,778.44 171.13,778.96 173.28,779.46 175.43,779.96 177.57,780.44 179.72,780.91 181.87,781.37 184.01,781.82 186.16,782.26 188.3,782.69 190.45,783.11 192.6,783.52 194.74,783.92 196.89,784.32 199.03,784.7 201.18,785.07 203.33,785.44 205.47,785.79 207.62,786.14 209.76,786.48 211.91,786.82 214.06,787.14 216.2,787.46 218.35,787.77 220.49,788.07 222.64,788.37 224.79,788.66 226.93,788.94 229.08,789.22 231.22,789.49 233.37,789.75 235.52,790.01 237.66,790.26 239.81,790.51 241.96,790.75 244.1,790.98 246.25,791.21 248.39,791.44 250.54,791.65 252.69,791.87 254.83,792.08 256.98,792.28 259.12,792.48 261.27,792.68 263.42,792.87 265.56,793.05 267.71,793.24 269.85,793.41 272,793.59" fill="none" stroke="#000" stroke-width="1.3"/>
<polyline points="81,832.86 83.15,832.26 85.29,831.67 87.44,831.09 89.58,830.52 91.73,829.96 93.88,829.4 96.02,828.86 98.17,828.32 100.31,827.79 102.46,827.27 104.61,826.76 106.75,826.25 108.9,825.76 111.04,825.27 113.19,824.78 115.34,824.31 117.48,823.84 119.63,823.38 121.78,822.93 123.92,822.48 126.07,822.04 128.21,821.61 130.36,821.19 132.51,820.77 134.65,820.36 136.8,819.95 138.94,819.55 141.09,819.16 143.24,818.77 145.38,818.39 147.53,818.01 149.67,817.64 151.82,817.28 153.97,816.92 156.11,816.56 158.26,816.22 160.4,815.87 162.55,815.54 164.7,815.2 166.84,814.88 168.99,814.55 171.13,814.24 173.28,813.93 175.43,813.62 177.57,813.32 179.72,813.02 181.87,812.72 184.01,812.44 186.16,812.15 188.3,811.87 190.45,811.6 192.6,811.32 194.74,811.06 196.89,810.79 199.03,810.53 201.18,810.28 203.33,810.03 205.47,809.78 207.62,809.54 209.76,809.3 211.91,809.06 214.06,808.83 216.2,808.6 218.35,808.37 220.49,808.15 222.64,807.93 224.79,807.72 226.93,807.51 229.08,807.3 231.22,807.09 233.37,806.89 235.52,806.69 237.66,806.5 239.81,806.3 241.96,806.11 244.1,805.93 246.25,805.74 248.39,805.56 250.54,805.38 252.69,805.21 254.83,805.03 256.98,804.86 259.12,804.7 261.27,804.53 263.42,804.37 265.56,804.21 267.71,804.05 269.85,803.89 272,803.74" fill="none" stroke="#8a8a8a" stroke-width="1.5"/>
<polyline points="81,836.46 83.15,835.84 85.29,835.22 87.44,834.61 89.58,834.01 91.73,833.42 93.88,832.84 96.02,832.27 98.17,831.71 100.31,831.16 102.46,830.61 104.61,830.08 106.75,829.55 108.9,829.03 111.04,828.52 113.19,828.02 115.34,827.52 117.48,827.03 119.63,826.55 121.78,826.08 123.92,825.61 126.07,825.16 128.21,824.71 130.36,824.26 132.51,823.82 134.65,823.39 136.8,822.97 138.94,822.55 141.09,822.14 143.24,821.74 145.38,821.34 147.53,820.95 149.67,820.56 151.82,820.18 153.97,819.8 156.11,819.44 158.26,819.07 160.4,818.71 162.55,818.36 164.7,818.02 166.84,817.67 168.99,817.34 171.13,817.01 173.28,816.68 175.43,816.36 177.57,816.04 179.72,815.73 181.87,815.42 184.01,815.12 186.16,814.82 188.3,814.53 190.45,814.24 192.6,813.96 194.74,813.68 196.89,813.4 199.03,813.13 201.18,812.86 203.33,812.6 205.47,812.34 207.62,812.08 209.76,811.83 211.91,811.58 214.06,811.34 216.2,811.09 218.35,810.86 220.49,810.62 222.64,810.39 224.79,810.16 226.93,809.94 229.08,809.72 231.22,809.5 233.37,809.29 235.52,809.08 237.66,808.87 239.81,808.66 241.96,808.46 244.1,808.26 246.25,808.07 248.39,807.87 250.54,807.68 252.69,807.49 254.83,807.31 256.98,807.13 259.12,806.95 261.27,806.77 263.42,806.59 265.56,806.42 267.71,806.25 269.85,806.08 272,805.92" fill="none" stroke="#8a8a8a" stroke-width="1.5"/>
<polyline points="81,840.07 83.15,839.41 85.29,838.77 87.44,838.13 89.58,837.5 91.73,836.89 93.88,836.28 96.02,835.69 98.17,835.1 100.31,834.52 102.46,833.96 104.61,833.4 106.75,832.85 108.9,832.31 111.04,831.77 113.19,831.25 115.34,830.73 117.48,830.22 119.63,829.72 121.78,829.23 123.92,828.74 126.07,828.27 128.21,827.8 130.36,827.33 132.51,826.88 134.65,826.43 136.8,825.99 138.94,825.55 141.09,825.13 143.24,824.7 145.38,824.29 147.53,823.88 149.67,823.48 151.82,823.08 153.97,822.69 156.11,822.31 158.26,821.93 160.4,821.56 162.55,821.19 164.7,820.83 166.84,820.47 168.99,820.12 171.13,819.78 173.28,819.44 175.43,819.1 177.57,818.77 179.72,818.44 181.87,818.12 184.01,817.81 186.16,817.5 188.3,817.19 190.45,816.89 192.6,816.59 194.74,816.3 196.89,816.01 199.03,815.72 201.18,815.44 203.33,815.17 205.47,814.89 207.62,814.62 209.76,814.36 211.91,814.1 214.06,813.84 216.2,813.59 218.35,813.34 220.49,813.09 222.64,812.85 224.79,812.61 226.93,812.37 229.08,812.14 231.22,811.91 233.37,811.68 235.52,811.46 237.66,811.24 239.81,811.02 241.96,810.81 244.1,810.6 246.25,810.39 248.39,810.18 250.54,809.98 252.69,809.78 254.83,809.58 256.98,809.39 259.12,809.2 261.27,809.01 263.42,808.82 265.56,808.64 267.71,808.45 269.85,808.27 272,808.1" fill="none" stroke="#8a8a8a" stroke-width="1.5"/>
<polyline points="81,843.67 83.15,842.99 85.29,842.31 87.44,841.65 89.58,841 91.73,840.36 93.88,839.72 96.02,839.1 98.17,838.49 100.31,837.89 102.46,837.3 104.61,836.72 106.75,836.14 108.9,835.58 111.04,835.03 113.19,834.48 115.34,833.94 117.48,833.41 119.63,832.89 121.78,832.38 123.92,831.88 126.07,831.38 128.21,830.89 130.36,830.41 132.51,829.93 134.65,829.47 136.8,829.01 138.94,828.56 141.09,828.11 143.24,827.67 145.38,827.24 147.53,826.82 149.67,826.4 151.82,825.99 153.97,825.58 156.11,825.18 158.26,824.79 160.4,824.4 162.55,824.02 164.7,823.64 166.84,823.27 168.99,822.9 171.13,822.54 173.28,822.19 175.43,821.84 177.57,821.5 179.72,821.16 181.87,820.82 184.01,820.49 186.16,820.17 188.3,819.85 190.45,819.53 192.6,819.22 194.74,818.92 196.89,818.61 199.03,818.32 201.18,818.02 203.33,817.73 205.47,817.45 207.62,817.17 209.76,816.89 211.91,816.62 214.06,816.35 216.2,816.08 218.35,815.82 220.49,815.56 222.64,815.3 224.79,815.05 226.93,814.8 229.08,814.56 231.22,814.32 233.37,814.08 235.52,813.84 237.66,813.61 239.81,813.38 241.96,813.16 244.1,812.93 246.25,812.71 248.39,812.49 250.54,812.28 252.69,812.07 254.83,811.86 256.98,811.65 259.12,811.45 261.27,811.25 263.42,811.05 265.56,810.85 267.71,810.66 269.85,810.46 272,810.27" fill="none" stroke="#8a8a8a" stroke-width="1.5"/>
<polyline points="81,847.28 83.15,846.56 85.29,845.86 87.44,845.17 89.58,844.49 91.73,843.82 93.88,843.17 96.02,842.52 98.17,841.88 100.31,841.26 102.46,840.64 104.61,840.04 106.75,839.44 108.9,838.86 111.04,838.28 113.19,837.71 115.34,837.15 117.48,836.6 119.63,836.06 121.78,835.53 123.92,835.01 126.07,834.49 128.21,833.98 130.36,833.48 132.51,832.99 134.65,832.51 136.8,832.03 138.94,831.56 141.09,831.1 143.24,830.64 145.38,830.19 147.53,829.75 149.67,829.32 151.82,828.89 153.97,828.47 156.11,828.05 158.26,827.64 160.4,827.24 162.55,826.84 164.7,826.45 166.84,826.07 168.99,825.69 171.13,825.31 173.28,824.94 175.43,824.58 177.57,824.22 179.72,823.87 181.87,823.52 184.01,823.18 186.16,822.84 188.3,822.51 190.45,822.18 192.6,821.86 194.74,821.54 196.89,821.22 199.03,820.91 201.18,820.61 203.33,820.3 205.47,820.01 207.62,819.71 209.76,819.42 211.91,819.14 214.06,818.85 216.2,818.57 218.35,818.3 220.49,818.03 222.64,817.76 224.79,817.5 226.93,817.24 229.08,816.98 231.22,816.73 233.37,816.47 235.52,816.23 237.66,815.98 239.81,815.74 241.96,815.5 244.1,815.27 246.25,815.03 248.39,814.81 250.54,814.58 252.69,814.35 254.83,814.13 256.98,813.91 259.12,813.7 261.27,813.48 263.42,813.27 265.56,813.06 267.71,812.86 269.85,812.65 272,812.45" fill="none" stroke="#8a8a8a" stroke-width="1.5"/>
<polyline points="81,850.88 83.15,850.14 85.29,849.41 87.44,848.69 89.58,847.98 91.73,847.29 93.88,846.61 96.02,845.94 98.17,845.28 100.31,844.63 102.46,843.99 104.61,843.36 106.75,842.74 108.9,842.13 111.04,841.53 113.19,840.94 115.34,840.36 117.48,839.79 119.63,839.23 121.78,838.68 123.92,838.14 126.07,837.6 128.21,837.07 130.36,836.56 132.51,836.05 134.65,835.54 136.8,835.05 138.94,834.56 141.09,834.08 143.24,833.61 145.38,833.15 147.53,832.69 149.67,832.24 151.82,831.79 153.97,831.36 156.11,830.93 158.26,830.5 160.4,830.08 162.55,829.67 164.7,829.26 166.84,828.86 168.99,828.47 171.13,828.08 173.28,827.7 175.43,827.32 177.57,826.95 179.72,826.58 181.87,826.22 184.01,825.87 186.16,825.51 188.3,825.17 190.45,824.83 192.6,824.49 194.74,824.16 196.89,823.83 199.03,823.51 201.18,823.19 203.33,822.87 205.47,822.56 207.62,822.25 209.76,821.95 211.91,821.65 214.06,821.36 216.2,821.07 218.35,820.78 220.49,820.5 222.64,820.22 224.79,819.94 226.93,819.67 229.08,819.4 231.22,819.13 233.37,818.87 235.52,818.61 237.66,818.35 239.81,818.1 241.96,817.85 244.1,817.6 246.25,817.36 248.39,817.12 250.54,816.88 252.69,816.64 254.83,816.41 256.98,816.18 259.12,815.95 261.27,815.72 263.42,815.5 265.56,815.28 267.71,815.06 269.85,814.84 272,814.63" fill="none" stroke="#8a8a8a" stroke-width="1.5"/>
</g>
<rect x="81.0" y="12.25" width="191.0" height="154.7" fill="none" stroke="#000" stroke-width="1.6"/><rect x="81.0" y="241.6" width="191.0" height="154.7" fill="none" stroke="#000" stroke-width="1.6"/><rect x="81.0" y="470.95" width="191.0" height="154.7" fill="none" stroke="#000" stroke-width="1.6"/><rect x="81.0" y="700.3" width="191.0" height="154.7" fill="none" stroke="#000" stroke-width="1.6"/>
<path d="M81 166.95v5.6 M176.5 166.95v5.6 M272 166.95v5.6 M81 166.95h-5.6 M81 105.07h-5.6 M81 43.19h-5.6 M272 166.95h5.6 M272 106.38h5.6 M272 45.81h5.6 M81 396.3v5.6 M176.5 396.3v5.6 M272 396.3v5.6 M81 396.3h-5.6 M81 357.62h-5.6 M81 318.95h-5.6 M81 280.27h-5.6 M81 241.6h-5.6 M272 396.3h5.6 M272 318.95h5.6 M272 241.6h5.6 M81 625.65v5.6 M176.5 625.65v5.6 M272 625.65v5.6 M81 625.65h-5.6 M81 586.98h-5.6 M81 548.3h-5.6 M81 509.62h-5.6 M81 470.95h-5.6 M81 855v5.6 M176.5 855v5.6 M272 855v5.6 M81 855h-5.6 M81 824.06h-5.6 M81 793.12h-5.6 M81 762.18h-5.6 M81 731.24h-5.6 M81 700.3h-5.6" stroke="#000" stroke-width="1.45" fill="none"/>
<g>
<text transform="translate(76.25,190.5) translate(0.37,0.06) scale(1.0541,1.0684)">0</text>
<text transform="translate(167,190.5) translate(0.56,0.06) scale(0.9949,1.0652)">5</text>
<text transform="translate(167,190.5) translate(9.91,0.06) scale(1.0541,1.0684)">0</text>
<text transform="translate(257.75,190.5) translate(0.5,0) scale(1.0067,1.0597)">1</text>
<text transform="translate(257.75,190.5) translate(9.91,0.06) scale(1.0541,1.0684)">0</text>
<text transform="translate(257.75,190.5) translate(19.46,0.06) scale(1.0541,1.0684)">0</text>
<text transform="translate(156.62,211.5) translate(-0.36,0) scale(0.9868,1.0597)">Y</text>
<text transform="translate(156.62,211.5) translate(7.31,0.06) scale(1.0802,1.0481)">e</text>
<text transform="translate(156.62,211.5) translate(16.73,0.06) scale(0.8995,1.0481)">a</text>
<text transform="translate(156.62,211.5) translate(25.68,0) scale(1.2812,1.0407)">r</text>
<text transform="translate(156.62,211.5) translate(32.18,0.06) scale(0.9586,1.0509)">s</text>
<text transform="translate(40.7,172.95) translate(0.33,0) scale(1.0159,1.0629)">2</text>
<text transform="translate(40.7,172.95) translate(9.88,0) scale(1.0159,1.0629)">2</text>
<text transform="translate(40.7,172.95) translate(19.46,0.06) scale(1.0541,1.0684)">0</text>
<text transform="translate(40.83,111.07) translate(0.33,0) scale(1.0159,1.0629)">2</text>
<text transform="translate(40.83,111.07) translate(9.91,0) scale(1.0543,1.0597)">4</text>
<text transform="translate(40.83,111.07) translate(19.46,0.06) scale(1.0541,1.0684)">0</text>
<text transform="translate(40.83,49.19) translate(0.33,0) scale(1.0159,1.0629)">2</text>
<text transform="translate(40.83,49.19) translate(9.76,0.06) scale(1.0910,1.0684)">6</text>
<text transform="translate(40.83,49.19) translate(19.46,0.06) scale(1.0541,1.0684)">0</text>
<text transform="translate(30.8,141.95) rotate(-90) translate(0.05,-0.11) scale(1.0148,1.0597)">V</text>
<text transform="translate(30.8,141.95) rotate(-90) translate(10.42,-0.06) scale(1.0632,1.0481)">o</text>
<text transform="translate(30.8,141.95) rotate(-90) translate(19.82,-0.11) scale(1.0222,1.0486)">l</text>
<text transform="translate(30.8,141.95) rotate(-90) translate(23.83,-0.06) scale(1.0781,1.0672)">u</text>
<text transform="translate(30.8,141.95) rotate(-90) translate(33.34,-0.11) scale(1.1395,1.0407)">m</text>
<text transform="translate(30.8,141.95) rotate(-90) translate(47.86,-0.06) scale(1.0802,1.0481)">e</text>
<text transform="translate(30.8,141.95) rotate(-90) translate(62.22,-1.11) scale(0.8451,0.9560)">(</text>
<text transform="translate(30.8,141.95) rotate(-90) translate(67.8,-0.11) scale(1.1184,1.0486)">k</text>
<text transform="translate(30.8,141.95) rotate(-90) translate(76.49,-0.11) scale(1.1395,1.0407)">m</text>
<text transform="translate(30.8,141.95) rotate(-90) translate(91.41,-5.82) scale(0.7084,0.7479)">3</text>
<text transform="translate(30.8,141.95) rotate(-90) translate(99.23,-1.11) scale(0.8451,0.9560)">)</text>
<text transform="translate(76.25,419.85) translate(0.37,0.06) scale(1.0541,1.0684)">0</text>
<text transform="translate(167,419.85) translate(0.56,0.06) scale(0.9949,1.0652)">5</text>
<text transform="translate(167,419.85) translate(9.91,0.06) scale(1.0541,1.0684)">0</text>
<text transform="translate(257.75,419.85) translate(0.5,0) scale(1.0067,1.0597)">1</text>
<text transform="translate(257.75,419.85) translate(9.91,0.06) scale(1.0541,1.0684)">0</text>
<text transform="translate(257.75,419.85) translate(19.46,0.06) scale(1.0541,1.0684)">0</text>
<text transform="translate(156.62,440.85) translate(-0.36,0) scale(0.9868,1.0597)">Y</text>
<text transform="translate(156.62,440.85) translate(7.31,0.06) scale(1.0802,1.0481)">e</text>
<text transform="translate(156.62,440.85) translate(16.73,0.06) scale(0.8995,1.0481)">a</text>
<text transform="translate(156.62,440.85) translate(25.68,0) scale(1.2812,1.0407)">r</text>
<text transform="translate(156.62,440.85) translate(32.18,0.06) scale(0.9586,1.0509)">s</text>
<text transform="translate(59.95,247.6) translate(0.37,0.06) scale(1.0541,1.0684)">0</text>
<text transform="translate(37.83,286.27) translate(0.64,1.1) scale(1.2884,1.1638)">−</text>
<text transform="translate(37.83,286.27) translate(13.07,0) scale(1.0067,1.0597)">1</text>
<text transform="translate(37.83,286.27) translate(22.48,0.06) scale(1.0541,1.0684)">0</text>
<text transform="translate(37.7,324.95) translate(0.64,1.1) scale(1.2884,1.1638)">−</text>
<text transform="translate(37.7,324.95) translate(12.9,0) scale(1.0159,1.0629)">2</text>
<text transform="translate(37.7,324.95) translate(22.48,0.06) scale(1.0541,1.0684)">0</text>
<text transform="translate(37.83,363.62) translate(0.64,1.1) scale(1.2884,1.1638)">−</text>
<text transform="translate(37.83,363.62) translate(13.13,0.06) scale(1.0121,1.0684)">3</text>
<text transform="translate(37.83,363.62) translate(22.48,0.06) scale(1.0541,1.0684)">0</text>
<text transform="translate(37.83,402.3) translate(0.64,1.1) scale(1.2884,1.1638)">−</text>
<text transform="translate(37.83,402.3) translate(12.94,0) scale(1.0543,1.0597)">4</text>
<text transform="translate(37.83,402.3) translate(22.48,0.06) scale(1.0541,1.0684)">0</text>
<text transform="translate(27.3,401.29) rotate(-90) translate(0.05,-0.11) scale(1.0148,1.0597)">V</text>
<text transform="translate(27.3,401.29) rotate(-90) translate(10.42,-0.06) scale(1.0632,1.0481)">o</text>
<text transform="translate(27.3,401.29) rotate(-90) translate(19.82,-0.11) scale(1.0222,1.0486)">l</text>
<text transform="translate(27.3,401.29) rotate(-90) translate(23.83,-0.06) scale(1.0781,1.0672)">u</text>
<text transform="translate(27.3,401.29) rotate(-90) translate(33.34,-0.11) scale(1.1395,1.0407)">m</text>
<text transform="translate(27.3,401.29) rotate(-90) translate(47.86,-0.06) scale(1.0802,1.0481)">e</text>
<text transform="translate(27.3,401.29) rotate(-90) translate(61.91,-0.06) scale(1.0035,1.0481)">c</text>
<text transform="translate(27.3,401.29) rotate(-90) translate(70.2,-0.11) scale(1.0859,1.0486)">h</text>
<text transform="translate(27.3,401.29) rotate(-90) translate(79.8,-0.06) scale(0.8995,1.0481)">a</text>
<text transform="translate(27.3,401.29) rotate(-90) translate(88.95,-0.11) scale(1.0784,1.0407)">n</text>
<text transform="translate(27.3,401.29) rotate(-90) translate(98.32,-0.21) scale(1.0868,1.0320)">g</text>
<text transform="translate(27.3,401.29) rotate(-90) translate(107.83,-0.06) scale(1.0802,1.0481)">e</text>
<text transform="translate(27.3,401.29) rotate(-90) translate(122.19,-1.11) scale(0.8451,0.9560)">(</text>
<text transform="translate(27.3,401.29) rotate(-90) translate(127.78,-0.11) scale(1.1184,1.0486)">k</text>
<text transform="translate(27.3,401.29) rotate(-90) translate(136.46,-0.11) scale(1.1395,1.0407)">m</text>
<text transform="translate(27.3,401.29) rotate(-90) translate(151.38,-5.82) scale(0.7084,0.7479)">3</text>
<text transform="translate(27.3,401.29) rotate(-90) translate(159.2,-1.11) scale(0.8451,0.9560)">)</text>
<text transform="translate(76.25,649.2) translate(0.37,0.06) scale(1.0541,1.0684)">0</text>
<text transform="translate(167,649.2) translate(0.56,0.06) scale(0.9949,1.0652)">5</text>
<text transform="translate(167,649.2) translate(9.91,0.06) scale(1.0541,1.0684)">0</text>
<text transform="translate(257.75,649.2) translate(0.5,0) scale(1.0067,1.0597)">1</text>
<text transform="translate(257.75,649.2) translate(9.91,0.06) scale(1.0541,1.0684)">0</text>
<text transform="translate(257.75,649.2) translate(19.46,0.06) scale(1.0541,1.0684)">0</text>
<text transform="translate(156.62,670.2) translate(-0.36,0) scale(0.9868,1.0597)">Y</text>
<text transform="translate(156.62,670.2) translate(7.31,0.06) scale(1.0802,1.0481)">e</text>
<text transform="translate(156.62,670.2) translate(16.73,0.06) scale(0.8995,1.0481)">a</text>
<text transform="translate(156.62,670.2) translate(25.68,0) scale(1.2812,1.0407)">r</text>
<text transform="translate(156.62,670.2) translate(32.18,0.06) scale(0.9586,1.0509)">s</text>
<text transform="translate(45.7,476.95) translate(0.37,0.06) scale(1.0541,1.0684)">0</text>
<text transform="translate(45.7,476.95) translate(9.66,0) scale(1.0831,1.1602)">.</text>
<text transform="translate(45.7,476.95) translate(14.68,0.06) scale(1.0541,1.0684)">0</text>
<text transform="translate(32.95,515.62) translate(0.64,1.1) scale(1.2884,1.1638)">−</text>
<text transform="translate(32.95,515.62) translate(12.94,0.06) scale(1.0541,1.0684)">0</text>
<text transform="translate(32.95,515.62) translate(22.23,0) scale(1.0831,1.1602)">.</text>
<text transform="translate(32.95,515.62) translate(27.21,0) scale(1.0159,1.0629)">2</text>
<text transform="translate(33.08,554.3) translate(0.64,1.1) scale(1.2884,1.1638)">−</text>
<text transform="translate(33.08,554.3) translate(12.94,0.06) scale(1.0541,1.0684)">0</text>
<text transform="translate(33.08,554.3) translate(22.23,0) scale(1.0831,1.1602)">.</text>
<text transform="translate(33.08,554.3) translate(27.25,0) scale(1.0543,1.0597)">4</text>
<text transform="translate(33.08,592.97) translate(0.64,1.1) scale(1.2884,1.1638)">−</text>
<text transform="translate(33.08,592.97) translate(12.94,0.06) scale(1.0541,1.0684)">0</text>
<text transform="translate(33.08,592.97) translate(22.23,0) scale(1.0831,1.1602)">.</text>
<text transform="translate(33.08,592.97) translate(27.1,0.06) scale(1.0910,1.0684)">6</text>
<text transform="translate(33.08,631.65) translate(0.64,1.1) scale(1.2884,1.1638)">−</text>
<text transform="translate(33.08,631.65) translate(12.94,0.06) scale(1.0541,1.0684)">0</text>
<text transform="translate(33.08,631.65) translate(22.23,0) scale(1.0831,1.1602)">.</text>
<text transform="translate(33.08,631.65) translate(27.2,0.06) scale(1.0656,1.0684)">8</text>
<rect transform="translate(23.05,588.43) rotate(-90)" x="6.04" y="-15.9" width="1.35" height="1.71"/>
<text transform="translate(23.05,588.43) rotate(-90) translate(-0.06,-0.09) scale(1.0085,1.0597)" font-style="italic">M</text>
<text transform="translate(23.05,588.43) rotate(-90) translate(18.21,-1.08) scale(0.8451,0.9560)">(</text>
<text transform="translate(23.05,588.43) rotate(-90) translate(23.67,-0.03) scale(0.9753,1.0684)">G</text>
<text transform="translate(23.05,588.43) rotate(-90) translate(35.29,-0.22) scale(1.3363,1.0732)">t</text>
<text transform="translate(23.05,588.43) rotate(-90) translate(46.16,-0.03) scale(0.8995,1.0481)">a</text>
<text transform="translate(23.05,588.43) rotate(-90) translate(55.62,-5.06) scale(0.9019,0.8147)">−</text>
<text transform="translate(23.05,588.43) rotate(-90) translate(66.32,-5.83) scale(0.7047,0.7418)">1</text>
<text transform="translate(23.05,588.43) rotate(-90) translate(74.19,-1.08) scale(0.8451,0.9560)">)</text>
<text transform="translate(76.25,878.55) translate(0.37,0.06) scale(1.0541,1.0684)">0</text>
<text transform="translate(167,878.55) translate(0.56,0.06) scale(0.9949,1.0652)">5</text>
<text transform="translate(167,878.55) translate(9.91,0.06) scale(1.0541,1.0684)">0</text>
<text transform="translate(257.75,878.55) translate(0.5,0) scale(1.0067,1.0597)">1</text>
<text transform="translate(257.75,878.55) translate(9.91,0.06) scale(1.0541,1.0684)">0</text>
<text transform="translate(257.75,878.55) translate(19.46,0.06) scale(1.0541,1.0684)">0</text>
<text transform="translate(156.62,899.55) translate(-0.36,0) scale(0.9868,1.0597)">Y</text>
<text transform="translate(156.62,899.55) translate(7.31,0.06) scale(1.0802,1.0481)">e</text>
<text transform="translate(156.62,899.55) translate(16.73,0.06) scale(0.8995,1.0481)">a</text>
<text transform="translate(156.62,899.55) translate(25.68,0) scale(1.2812,1.0407)">r</text>
<text transform="translate(156.62,899.55) translate(32.18,0.06) scale(0.9586,1.0509)">s</text>
<text transform="translate(45.7,861) translate(0.37,0.06) scale(1.0541,1.0684)">0</text>
<text transform="translate(45.7,861) translate(9.66,0) scale(1.0831,1.1602)">.</text>
<text transform="translate(45.7,861) translate(14.68,0.06) scale(1.0541,1.0684)">0</text>
<text transform="translate(45.58,830.06) translate(0.37,0.06) scale(1.0541,1.0684)">0</text>
<text transform="translate(45.58,830.06) translate(9.66,0) scale(1.0831,1.1602)">.</text>
<text transform="translate(45.58,830.06) translate(14.64,0) scale(1.0159,1.0629)">2</text>
<text transform="translate(45.7,799.12) translate(0.37,0.06) scale(1.0541,1.0684)">0</text>
<text transform="translate(45.7,799.12) translate(9.66,0) scale(1.0831,1.1602)">.</text>
<text transform="translate(45.7,799.12) translate(14.68,0) scale(1.0543,1.0597)">4</text>
<text transform="translate(45.7,768.18) translate(0.37,0.06) scale(1.0541,1.0684)">0</text>
<text transform="translate(45.7,768.18) translate(9.66,0) scale(1.0831,1.1602)">.</text>
<text transform="translate(45.7,768.18) translate(14.53,0.06) scale(1.0910,1.0684)">6</text>
<text transform="translate(45.7,737.24) translate(0.37,0.06) scale(1.0541,1.0684)">0</text>
<text transform="translate(45.7,737.24) translate(9.66,0) scale(1.0831,1.1602)">.</text>
<text transform="translate(45.7,737.24) translate(14.63,0.06) scale(1.0656,1.0684)">8</text>
<text transform="translate(45.7,706.3) translate(0.5,0) scale(1.0067,1.0597)">1</text>
<text transform="translate(45.7,706.3) translate(9.66,0) scale(1.0831,1.1602)">.</text>
<text transform="translate(45.7,706.3) translate(14.68,0.06) scale(1.0541,1.0684)">0</text>
<rect transform="translate(35.67,828.08) rotate(-90)" x="5.09" y="-15.9" width="1.35" height="1.71"/>
<text transform="translate(35.67,828.08) rotate(-90) translate(-0.08,-0.09) scale(1.0548,1.0597)" font-style="italic">D</text>
<text transform="translate(35.67,828.08) rotate(-90) translate(15.51,-0.31) scale(1.4567,1.0232)">,</text>
<rect transform="translate(35.67,828.08) rotate(-90)" x="30.18" y="-15.9" width="1.35" height="1.71"/>
<text transform="translate(35.67,828.08) rotate(-90) translate(25.8,-0.09) scale(0.9935,1.0597)" font-style="italic">B</text>
<text transform="translate(35.67,828.08) rotate(-90) translate(41.42,-1.08) scale(0.8451,0.9560)">(</text>
<text transform="translate(35.67,828.08) rotate(-90) translate(46.87,-0.03) scale(0.9753,1.0684)">G</text>
<text transform="translate(35.67,828.08) rotate(-90) translate(58.49,-0.22) scale(1.3363,1.0732)">t</text>
<text transform="translate(35.67,828.08) rotate(-90) translate(69.36,-0.03) scale(0.8995,1.0481)">a</text>
<text transform="translate(35.67,828.08) rotate(-90) translate(78.82,-5.06) scale(0.9019,0.8147)">−</text>
<text transform="translate(35.67,828.08) rotate(-90) translate(89.52,-5.83) scale(0.7047,0.7418)">1</text>
<text transform="translate(35.67,828.08) rotate(-90) translate(97.39,-1.08) scale(0.8451,0.9560)">)</text>
<text transform="translate(283.25,172.95) translate(0.37,0.06) scale(1.0541,1.0684)">0</text>
<text transform="translate(283.25,172.95) translate(9.66,0) scale(1.0831,1.1602)">.</text>
<text transform="translate(283.25,172.95) translate(14.87,0.06) scale(0.9949,1.0652)">5</text>
<text transform="translate(283.25,172.95) translate(24.42,0.06) scale(0.9949,1.0652)">5</text>
<text transform="translate(283.25,112.38) translate(0.37,0.06) scale(1.0541,1.0684)">0</text>
<text transform="translate(283.25,112.38) translate(9.66,0) scale(1.0831,1.1602)">.</text>
<text transform="translate(283.25,112.38) translate(14.53,0.06) scale(1.0910,1.0684)">6</text>
<text transform="translate(283.25,112.38) translate(24.23,0.06) scale(1.0541,1.0684)">0</text>
<text transform="translate(283.25,51.81) translate(0.37,0.06) scale(1.0541,1.0684)">0</text>
<text transform="translate(283.25,51.81) translate(9.66,0) scale(1.0831,1.1602)">.</text>
<text transform="translate(283.25,51.81) translate(14.53,0.06) scale(1.0910,1.0684)">6</text>
<text transform="translate(283.25,51.81) translate(24.42,0.06) scale(0.9949,1.0652)">5</text>
<text transform="translate(334.7,156.48) rotate(-90) translate(0.05,0) scale(1.0148,1.0597)">V</text>
<text transform="translate(334.7,156.48) rotate(-90) translate(9.26,0.06) scale(1.0632,1.0481)">o</text>
<text transform="translate(334.7,156.48) rotate(-90) translate(18.66,0) scale(1.0222,1.0486)">l</text>
<text transform="translate(334.7,156.48) rotate(-90) translate(22.67,0.06) scale(1.0781,1.0672)">u</text>
<text transform="translate(334.7,156.48) rotate(-90) translate(32.18,0) scale(1.1395,1.0407)">m</text>
<text transform="translate(334.7,156.48) rotate(-90) translate(46.7,0.06) scale(1.0802,1.0481)">e</text>
<text transform="translate(334.7,156.48) rotate(-90) translate(61.06,-0.99) scale(0.8451,0.9560)">(</text>
<text transform="translate(334.7,156.48) rotate(-90) translate(66.64,0) scale(1.1395,1.0407)">m</text>
<text transform="translate(334.7,156.48) rotate(-90) translate(81.25,0) scale(1.1395,1.0407)">m</text>
<text transform="translate(334.7,156.48) rotate(-90) translate(100.78,0.06) scale(0.8913,1.0684)">S</text>
<text transform="translate(334.7,156.48) rotate(-90) translate(110.13,0) scale(1.0287,1.0597)">L</text>
<text transform="translate(334.7,156.48) rotate(-90) translate(118.69,0) scale(0.8666,1.0597)">E</text>
<text transform="translate(334.7,156.48) rotate(-90) translate(128.89,-0.99) scale(0.8451,0.9560)">)</text>
<text transform="translate(283.25,247.6) translate(0.37,0.06) scale(1.0541,1.0684)">0</text>
<text transform="translate(283.25,247.6) translate(9.66,0) scale(1.0831,1.1602)">.</text>
<text transform="translate(283.25,247.6) translate(14.68,0.06) scale(1.0541,1.0684)">0</text>
<text transform="translate(283.25,247.6) translate(24.23,0.06) scale(1.0541,1.0684)">0</text>
<text transform="translate(283.25,324.95) translate(0.64,1.1) scale(1.2884,1.1638)">−</text>
<text transform="translate(283.25,324.95) translate(12.94,0.06) scale(1.0541,1.0684)">0</text>
<text transform="translate(283.25,324.95) translate(22.23,0) scale(1.0831,1.1602)">.</text>
<text transform="translate(283.25,324.95) translate(27.25,0.06) scale(1.0541,1.0684)">0</text>
<text transform="translate(283.25,324.95) translate(36.98,0.06) scale(0.9949,1.0652)">5</text>
<text transform="translate(283.25,402.3) translate(0.64,1.1) scale(1.2884,1.1638)">−</text>
<text transform="translate(283.25,402.3) translate(12.94,0.06) scale(1.0541,1.0684)">0</text>
<text transform="translate(283.25,402.3) translate(22.23,0) scale(1.0831,1.1602)">.</text>
<text transform="translate(283.25,402.3) translate(27.38,0) scale(1.0067,1.0597)">1</text>
<text transform="translate(283.25,402.3) translate(36.79,0.06) scale(1.0541,1.0684)">0</text>
<text transform="translate(347.32,416.01) rotate(-90) translate(0.05,0) scale(1.0148,1.0597)">V</text>
<text transform="translate(347.32,416.01) rotate(-90) translate(9.26,0.06) scale(1.0632,1.0481)">o</text>
<text transform="translate(347.32,416.01) rotate(-90) translate(18.66,0) scale(1.0222,1.0486)">l</text>
<text transform="translate(347.32,416.01) rotate(-90) translate(22.67,0.06) scale(1.0781,1.0672)">u</text>
<text transform="translate(347.32,416.01) rotate(-90) translate(32.18,0) scale(1.1395,1.0407)">m</text>
<text transform="translate(347.32,416.01) rotate(-90) translate(46.7,0.06) scale(1.0802,1.0481)">e</text>
<text transform="translate(347.32,416.01) rotate(-90) translate(60.75,0.06) scale(1.0035,1.0481)">c</text>
<text transform="translate(347.32,416.01) rotate(-90) translate(69.04,0) scale(1.0859,1.0486)">h</text>
<text transform="translate(347.32,416.01) rotate(-90) translate(78.64,0.06) scale(0.8995,1.0481)">a</text>
<text transform="translate(347.32,416.01) rotate(-90) translate(87.79,0) scale(1.0784,1.0407)">n</text>
<text transform="translate(347.32,416.01) rotate(-90) translate(97.15,-0.09) scale(1.0868,1.0320)">g</text>
<text transform="translate(347.32,416.01) rotate(-90) translate(106.67,0.06) scale(1.0802,1.0481)">e</text>
<text transform="translate(347.32,416.01) rotate(-90) translate(121.03,-0.99) scale(0.8451,0.9560)">(</text>
<text transform="translate(347.32,416.01) rotate(-90) translate(126.61,0) scale(1.1395,1.0407)">m</text>
<text transform="translate(347.32,416.01) rotate(-90) translate(141.22,0) scale(1.1395,1.0407)">m</text>
<text transform="translate(347.32,416.01) rotate(-90) translate(160.76,0.06) scale(0.8913,1.0684)">S</text>
<text transform="translate(347.32,416.01) rotate(-90) translate(170.1,0) scale(1.0287,1.0597)">L</text>
<text transform="translate(347.32,416.01) rotate(-90) translate(178.66,0) scale(0.8666,1.0597)">E</text>
<text transform="translate(347.32,416.01) rotate(-90) translate(188.86,-0.99) scale(0.8451,0.9560)">)</text>
<rect transform="translate(132,745.9)" x="5.52" y="-16.96" width="1.44" height="1.82"/>
<text transform="translate(132,745.9) translate(-0.09,-0.1) scale(1.1251,1.1303)" font-style="italic">D</text>
<rect transform="translate(133,812)" x="4.7" y="-16.96" width="1.44" height="1.82"/>
<text transform="translate(133,812) translate(-0.06,-0.1) scale(1.0597,1.1303)" font-style="italic">B</text>
</g>
<text transform="translate(9.36,15.53) scale(1.1551,1.1804)">a</text>
<text transform="translate(8.94,217.52) scale(1.3046,1.2437)">b</text>
<text transform="translate(9.22,475.12) scale(1.3762,1.2169)">c</text>
<text transform="translate(9.05,700.42) scale(1.3490,1.2255)">d</text>
</svg>
</body></html>
